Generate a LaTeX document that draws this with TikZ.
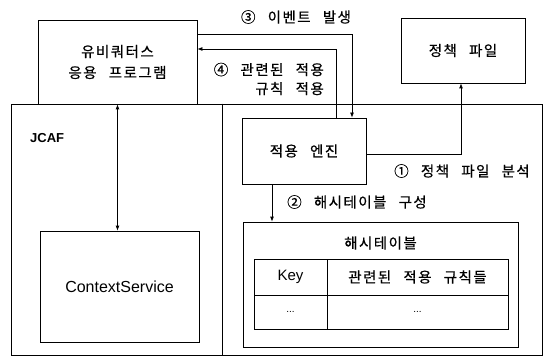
\documentclass[tikz,border=0pt]{standalone}
\usepackage{fontspec}
\setmainfont{Liberation Sans}
\newfontfamily\kr[LetterSpace=10,WordSpace=2.6,FakeBold=0.6]{Noto Sans CJK KR}
\usetikzlibrary{arrows.meta}
\tikzset{
  box/.style={draw, line width=0.8pt, inner sep=0pt},
  krf/.style={font=\kr\fontsize{14.5}{19}\selectfont},
  lbl/.style={inner sep=0pt, krf},
  arr/.style={line width=0.8pt, -{Latex[length=5pt,width=4pt]}},
  arrr/.style={line width=0.8pt, {Latex[length=5pt,width=4pt]}-{Latex[length=5pt,width=4pt]}},
  ln/.style={line width=0.8pt}
}
\begin{document}
\begin{tikzpicture}[x=1pt,y=-1pt]
\useasboundingbox (0,0) rectangle (544,361);
% outer JCAF
\node[box, minimum width=531, minimum height=251] (jcaf) at (276.5,229.5) {};
\node[inner sep=0pt, font=\bfseries\fontsize{13}{15}\selectfont, anchor=west] (jcaft) at (30,138) {JCAF};
\coordinate (divx) at (222,0);
\draw[ln] (jcaf.north -| divx) -- (jcaf.south -| divx);
% app
\node[box, minimum width=159, minimum height=84, align=center, font=\kr\fontsize{14.5}{21}\selectfont] (app) at (117.5,62) {유비쿼터스\\응용 프로그램};
% policy
\node[box, minimum width=124, minimum height=65, krf] (policy) at (463,50.5) {정책 파일};
% engine
\node[box, minimum width=124, minimum height=66, krf] (engine) at (304,151) {적용 엔진};
% context
\node[box, minimum width=159, minimum height=111, font=\fontsize{16}{19}\selectfont] (ctx) at (119.5,286.5) {ContextService};
% hashtable
\node[box, minimum width=275, minimum height=125] (hash) at (380.5,284.5) {};
\node[lbl] (hasht) at (380.5,243) {해시테이블};
\node[box, minimum width=73, minimum height=36, font=\fontsize{15}{18}\selectfont] (keyh) at (290.5,277) {Key};
\node[box, minimum width=181, minimum height=36, krf] (ruleh) at (417.5,277) {관련된 적용 규칙들};
\node[box, minimum width=73, minimum height=34] (keyd) at (290.5,312) {...};
\node[box, minimum width=181, minimum height=34] (ruled) at (417.5,312) {...};
% arrows
\draw[arrr] (app.south) -- (app.south |- ctx.north);
\coordinate (c3) at (352,34);
\draw[arr] (app.east |- c3) -- (c3) -- (c3 |- engine.north);
\coordinate (c4) at (336,49);
\draw[arr] (c4 |- engine.north) -- (c4) -- (c4 -| app.east);
\coordinate (c1) at (461,154);
\draw[arr] (engine.east |- c1) -- (c1) -- (c1 |- policy.south);
\coordinate (c2) at (272,0);
\draw[arr] (engine.south -| c2) -- (hash.north -| c2);
% labels
\node[lbl] (l3) at (296,17) {③ 이벤트 발생};
\node[lbl, align=right, anchor=east] (l4) at (324,79) {④ 관련된 적용\\규칙 적용};
\node[lbl] (l1) at (462,171) {① 정책 파일 분석};
\node[lbl] (l2) at (357,202) {② 해시테이블 구성};
\end{tikzpicture}
\end{document}
